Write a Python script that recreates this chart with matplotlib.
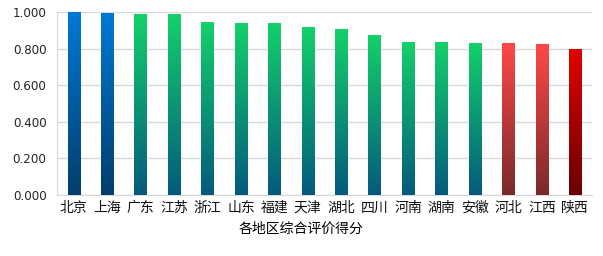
import numpy as np
import matplotlib
matplotlib.use("Agg")
import matplotlib.pyplot as plt
from matplotlib.colors import LinearSegmentedColormap

plt.rcParams['font.family'] = ['DejaVu Sans', 'Noto Sans CJK SC']

# Data
regions = ["北京", "上海", "广东", "江苏", "浙江", "山东", "福建", "天津",
           "湖北", "四川", "河南", "湖南", "安徽", "河北", "江西", "陕西"]
scores = [1.000, 0.996, 0.989, 0.989, 0.945, 0.940, 0.940, 0.918,
          0.907, 0.874, 0.836, 0.836, 0.831, 0.831, 0.825, 0.798]
groups = ["blue", "blue", "green", "green", "green", "green", "green", "green",
          "green", "green", "green", "green", "green", "red", "red", "darkred"]
x_title = "各地区综合评价得分"

# (bottom colour, top colour) for each group
gradients = {
    "blue": ("#023e6c", "#0079d6"),
    "green": ("#045a7d", "#13d16a"),
    "red": ("#7a2a2a", "#ff4848"),
    "darkred": ("#6a0000", "#e20000"),
}

fig = plt.figure(figsize=(6.03, 2.56), dpi=100)
ax = fig.add_axes([57 / 603, 1 - 195 / 256, 535 / 603, 183 / 256])

x = np.arange(len(regions))
bars = ax.bar(x, scores, width=0.37, color="none", zorder=3)

grad = np.linspace(0, 1, 256).reshape(-1, 1)
for b, g in zip(bars, groups):
    cmap = LinearSegmentedColormap.from_list(g, gradients[g])
    x0, w, h = b.get_x(), b.get_width(), b.get_height()
    im = ax.imshow(grad, cmap=cmap, aspect="auto", origin="lower",
                   extent=[x0, x0 + w, 0, h], zorder=3)
    im.set_clip_path(b)

ax.set_xlim(-0.5, len(regions) - 0.5)
ax.set_ylim(0, 1.0)
ax.set_yticks(np.arange(0, 1.01, 0.2))
ax.set_yticklabels([f"{v:.3f}" for v in np.arange(0, 1.01, 0.2)])
ax.set_xticks(x)
ax.set_xticklabels(regions)
ax.tick_params(axis="x", length=0, labelsize=10, colors="#111111", pad=4)
ax.tick_params(axis="y", length=0, labelsize=8.6, colors="#222222", pad=7.5)
ax.grid(axis="y", color="#d9d9d9", linewidth=1, zorder=0)
for s in ["top", "right"]:
    ax.spines[s].set_visible(False)
ax.spines["left"].set_color("#d9d9d9")
ax.spines["bottom"].set_color("#d9d9d9")

fig.text(0.5, 1 - 229 / 256, x_title, ha="center", va="center", fontsize=10)

fig.savefig("out.png", dpi=100)
